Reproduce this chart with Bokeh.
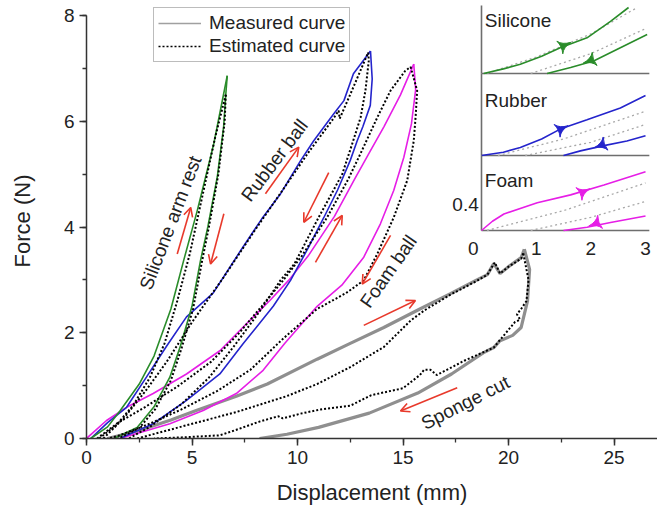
import math
from bokeh.plotting import figure
from bokeh.models import (Range1d, SingleIntervalTicker, Arrow, OpenHead, ColumnDataSource,
                          Legend, LegendItem)
from bokeh.core.properties import value
from bokeh.embed import file_html
from bokeh.resources import INLINE

# ---------------- main data (Displacement mm, Force N) ----------------
sil_meas_load_x = [0.2, 1.0, 1.6, 2.5, 3.2, 4.0, 4.6, 5.25, 6.03, 6.67]
sil_meas_load_y = [0.0, 0.22, 0.53, 1.03, 1.56, 2.45, 3.36, 4.31, 5.57, 6.86]
sil_meas_unload_x = [6.67, 6.6, 6.5, 6.2, 5.75, 5.4, 5.0, 4.45, 3.95, 3.2, 2.4, 1.3]
sil_meas_unload_y = [6.86, 6.5, 5.9, 4.95, 4.0, 3.36, 2.5, 1.75, 1.16, 0.6, 0.21, 0.0]
sil_est_load_x = [0.6, 1.4, 2.2, 3.0, 3.7, 4.3, 4.9, 5.5, 6.1, 6.6]
sil_est_load_y = [0.0, 0.25, 0.62, 1.15, 1.8, 2.6, 3.5, 4.6, 5.7, 6.5]
sil_est_unload_x = [6.6, 6.55, 6.25, 5.8, 5.45, 5.05, 4.5, 4.0, 3.25, 2.5, 1.5]
sil_est_unload_y = [6.5, 6.0, 5.0, 4.0, 3.3, 2.45, 1.7, 1.1, 0.55, 0.2, 0.0]

rub_meas_load_x = [0.2, 1.0, 1.9, 2.84, 3.8, 4.74, 6.0, 7.3, 8.3, 9.2, 10.14, 10.77, 11.72, 12.2, 12.65, 13.46]
rub_meas_load_y = [0.0, 0.3, 0.59, 1.16, 1.75, 2.3, 2.75, 3.55, 4.15, 4.63, 5.25, 5.63, 6.14, 6.39, 6.9, 7.33]
rub_meas_unload_x = [13.46, 13.54, 13.45, 13.1, 12.83, 12.5, 11.9, 11.25, 10.5, 9.67, 8.85, 7.42, 6.32, 4.74, 3.16, 1.58]
rub_meas_unload_y = [7.33, 6.8, 6.3, 5.9, 5.63, 5.26, 4.7, 4.18, 3.6, 2.99, 2.5, 1.79, 1.22, 0.72, 0.28, 0.0]
rub_est_load_x = [0.8, 1.8, 2.8, 3.8, 5.0, 6.5, 8.0, 9.3, 10.5, 11.7, 11.95, 12.0, 12.6, 13.35]
rub_est_load_y = [0.0, 0.4, 0.9, 1.45, 2.2, 3.05, 3.95, 4.7, 5.4, 6.05, 6.2, 6.05, 6.6, 7.3]
rub_est_unload_x = [13.35, 13.38, 13.22, 12.99, 12.59, 12.12, 11.0, 9.85, 9.19, 8.2, 7.0, 5.8, 4.5, 3.0, 2.0]
rub_est_unload_y = [7.3, 7.15, 6.58, 6.07, 5.57, 5.0, 4.18, 3.3, 2.99, 2.4, 1.75, 1.15, 0.65, 0.22, 0.0]

foam_meas_load_x = [0.0, 0.95, 1.9, 3.16, 4.74, 6.32, 7.58, 8.69, 9.6, 10.5, 11.75, 12.7, 13.4, 14.1, 14.88, 15.51]
foam_meas_load_y = [0.0, 0.34, 0.59, 0.85, 1.22, 1.66, 2.17, 2.61, 3.0, 3.45, 4.2, 4.9, 5.4, 5.9, 6.5, 7.08]
foam_meas_unload_x = [15.51, 15.6, 15.4, 15.04, 14.56, 13.93, 13.14, 12.1, 10.93, 9.4, 8.37, 7.1, 5.53, 3.95, 1.58]
foam_meas_unload_y = [7.08, 6.6, 5.95, 5.32, 4.69, 4.06, 3.43, 2.9, 2.5, 1.8, 1.29, 0.85, 0.53, 0.28, 0.0]
foam_est_load_x = [0.5, 1.5, 2.8, 4.3, 5.9, 7.2, 8.3, 9.3, 10.2, 11.4, 12.4, 13.0, 13.78, 14.41, 15.1, 15.36]
foam_est_load_y = [0.0, 0.3, 0.6, 0.98, 1.45, 1.98, 2.5, 2.98, 3.45, 4.18, 4.9, 5.4, 6.07, 6.58, 6.95, 7.03]
foam_est_unload_x = [15.36, 15.67, 15.6, 15.51, 15.2, 14.56, 13.78, 13.14, 12.3, 10.93, 9.35, 7.77, 6.2, 4.5, 3.0, 1.5, 1.0]
foam_est_unload_y = [7.03, 6.58, 6.1, 5.63, 4.88, 4.18, 3.49, 2.99, 2.75, 2.45, 1.9, 1.3, 0.9, 0.55, 0.28, 0.05, 0.0]

spo_meas_load_x = [1.0, 2.5, 4.0, 5.2, 7.1, 8.57, 10.93, 12.5, 14.09, 15.8, 17.25, 18.5, 19.0, 19.3, 19.6, 20.0, 20.6, 20.75]
spo_meas_load_y = [0.0, 0.15, 0.35, 0.53, 0.8, 1.03, 1.5, 1.8, 2.1, 2.45, 2.74, 3.0, 3.1, 3.31, 3.12, 3.25, 3.42, 3.58]
spo_meas_unload_x = [20.75, 21.0, 20.9, 20.6, 20.2, 19.6, 19.3, 18.8, 17.3, 15.7, 13.4, 11.0, 9.5, 8.2]
spo_meas_unload_y = [3.58, 3.2, 2.6, 2.1, 1.95, 1.85, 1.72, 1.62, 1.22, 0.86, 0.48, 0.21, 0.08, 0.0]
spo_est_load_x = [2.4, 4.74, 7.1, 9.48, 10.93, 12.5, 14.09, 15.36, 16.0, 17.25, 18.5, 19.0, 19.35, 19.6, 20.0, 20.6, 20.7]
spo_est_load_y = [0.0, 0.25, 0.5, 0.8, 1.03, 1.35, 1.73, 2.23, 2.42, 2.72, 2.98, 3.1, 3.33, 3.12, 3.25, 3.4, 3.5]
spo_est_unload_x = [20.7, 20.95, 20.85, 20.6, 20.4, 20.55, 20.3, 19.3, 17.9, 16.6, 16.3, 16.0, 15.8, 15.0, 13.5,
                    12.5, 11.1, 10.14, 9.3, 9.1, 8.9, 8.2, 7.0, 6.32, 4.5, 3.2]
spo_est_unload_y = [3.5, 3.0, 2.6, 2.45, 2.35, 2.25, 2.2, 1.72, 1.47, 1.2, 1.3, 1.3, 1.2, 0.95, 0.82,
                    0.62, 0.55, 0.47, 0.38, 0.42, 0.4, 0.32, 0.15, 0.06, 0.02, 0.0]

# red direction arrows (data coords)
arrow_x0 = [4.30, 6.51, 8.48, 11.48, 10.85, 14.41, 13.14, 17.57]
arrow_y0 = [3.49, 4.25, 4.63, 5.03, 3.33, 3.84, 2.14, 0.96]
arrow_x1 = [4.94, 5.88, 10.06, 10.30, 12.12, 13.07, 15.59, 14.88]
arrow_y1 = [4.37, 3.30, 5.51, 4.09, 4.22, 2.92, 2.61, 0.52]

# curve labels
label_text = ["Silicone arm rest", "Rubber ball", "Foam ball", "Sponge cut"]
label_x = [3.98, 8.91, 14.31, 17.96]
label_y = [4.08, 5.26, 3.16, 0.68]
label_angle_deg = [69, 53, 55, 27]

x_ticks_interval = 5
y_ticks_interval = 2

# ---------------- inset data (displacement mm, force N) ----------------
sil_in_load_x = [0.04, 0.4, 0.71, 1.1, 1.44, 1.93, 2.36, 2.69]
sil_in_load_y = [0.0, 0.07, 0.14, 0.26, 0.39, 0.54, 0.79, 1.0]
sil_in_unload_x = [1.2, 1.63, 2.05, 2.54, 3.03]
sil_in_unload_y = [0.0, 0.09, 0.19, 0.39, 0.59]
sil_in_est_load_x = [0.1, 1.0, 2.0, 2.85]
sil_in_est_load_y = [0.0, 0.25, 0.6, 1.0]
sil_in_est_unload_x = [0.9, 2.0, 3.0]
sil_in_est_unload_y = [0.0, 0.3, 0.68]

rub_in_load_x = [0.0, 0.4, 0.71, 1.1, 1.44, 1.93, 2.54, 3.0]
rub_in_load_y = [0.0, 0.05, 0.12, 0.25, 0.4, 0.54, 0.72, 0.91]
rub_in_unload_x = [1.5, 1.81, 2.24, 2.66, 3.0]
rub_in_unload_y = [0.0, 0.07, 0.15, 0.22, 0.3]
rub_in_est_load_x = [0.3, 1.5, 3.0]
rub_in_est_load_y = [0.0, 0.25, 0.67]
rub_in_est_unload_x = [0.8, 2.0, 3.0]
rub_in_est_unload_y = [0.0, 0.2, 0.47]

foam_in_load_x = [0.0, 0.2, 0.41, 1.02, 1.63, 2.24, 3.0]
foam_in_load_y = [0.0, 0.14, 0.25, 0.42, 0.54, 0.69, 0.89]
foam_in_unload_x = [1.5, 1.93, 2.36, 3.0]
foam_in_unload_y = [0.0, 0.05, 0.12, 0.22]
foam_in_est_load_x = [0.1, 1.5, 3.0]
foam_in_est_load_y = [0.0, 0.3, 0.72]
foam_in_est_unload_x = [0.9, 2.0, 3.0]
foam_in_est_unload_y = [0.0, 0.2, 0.44]

# inset direction markers: (x, y) and pointing direction (deg)
sil_in_mark_x = [1.5, 2.0]
sil_in_mark_y = [0.42, 0.2]
rub_in_mark_x = [1.45, 2.2]
rub_in_mark_y = [0.40, 0.16]
foam_in_mark_x = [1.85, 2.1]
foam_in_mark_y = [0.58, 0.11]
mark_dir_deg = [25, 200]

inset_names = ["Silicone", "Rubber", "Foam"]
inset_xticks = [1, 2, 3]
inset_ytick = 0.4

# ---------------- styles / layout ----------------
FONT = "Liberation Sans"
GREEN, BLUE, MAGENTA, GRAY = "#2a8c2a", "#2424cc", "#e61ee6", "#8f8f8f"
RED = "#e8392b"
TXT = "#222222"
W, H = 657, 513
BL, BT, BB, BR = 86, 3, 75, 0
FW, FH = W - BL - BR, H - BT - BB
X_PX = 21.1
Y_TOP_PX = 12
y_scale = (FH - Y_TOP_PX) / 8.0

p = figure(width=W, height=H, output_backend="svg", toolbar_location=None,
           x_range=Range1d(0, FW / X_PX), y_range=Range1d(0, FH / y_scale),
           min_border_left=BL, min_border_right=BR, min_border_top=BT, min_border_bottom=BB)
p.outline_line_color = None
p.grid.visible = False
p.background_fill_color = "white"

p.xaxis.ticker = SingleIntervalTicker(interval=x_ticks_interval, num_minor_ticks=2)
p.yaxis.ticker = SingleIntervalTicker(interval=y_ticks_interval, num_minor_ticks=2)
p.yaxis.bounds = (0, 8)
for ax in (p.xaxis, p.yaxis):
    ax.axis_line_color = "#333333"
    ax.axis_line_width = 1.5
    ax.major_tick_line_color = "#333333"
    ax.major_tick_line_width = 1.5
    ax.minor_tick_line_color = "#333333"
    ax.minor_tick_line_width = 1.3
    ax.major_tick_in = 0
    ax.major_tick_out = 7
    ax.minor_tick_in = 0
    ax.minor_tick_out = 4
    ax.major_label_text_font = FONT
    ax.major_label_text_font_size = "19px"
    ax.major_label_text_color = TXT
    ax.axis_label_text_font = FONT
    ax.axis_label_text_font_size = "22px"
    ax.axis_label_text_font_style = "normal"
    ax.axis_label_text_color = TXT
p.xaxis.axis_label = "Displacement (mm)"
p.yaxis.axis_label = "Force (N)"
p.xaxis.major_label_standoff = 5
p.xaxis.axis_label_standoff = 13
p.yaxis.major_label_standoff = 5
p.yaxis.axis_label_standoff = 26

def meas(x, y, c, w=1.6):
    p.line(x, y, line_color=c, line_width=w)

def est(x, y):
    p.line(x, y, line_color="black", line_width=2, line_dash="2 2")

meas(spo_meas_load_x, spo_meas_load_y, GRAY, 3.2)
meas(spo_meas_unload_x, spo_meas_unload_y, GRAY, 3.2)
meas(foam_meas_load_x, foam_meas_load_y, MAGENTA)
meas(foam_meas_unload_x, foam_meas_unload_y, MAGENTA)
meas(rub_meas_load_x, rub_meas_load_y, BLUE)
meas(rub_meas_unload_x, rub_meas_unload_y, BLUE)
meas(sil_meas_load_x, sil_meas_load_y, GREEN)
meas(sil_meas_unload_x, sil_meas_unload_y, GREEN)
for xs, ys in [(spo_est_load_x, spo_est_load_y), (spo_est_unload_x, spo_est_unload_y),
               (foam_est_load_x, foam_est_load_y), (foam_est_unload_x, foam_est_unload_y),
               (rub_est_load_x, rub_est_load_y), (rub_est_unload_x, rub_est_unload_y),
               (sil_est_load_x, sil_est_load_y), (sil_est_unload_x, sil_est_unload_y)]:
    est(xs, ys)

arr_src = ColumnDataSource(dict(x0=arrow_x0, y0=arrow_y0, x1=arrow_x1, y1=arrow_y1))
p.add_layout(Arrow(source=arr_src, x_start="x0", y_start="y0", x_end="x1", y_end="y1",
                   line_color=RED, line_width=1.6,
                   end=OpenHead(size=9, line_color=RED, line_width=1.6)))

lab_src = ColumnDataSource(dict(x=label_x, y=label_y, t=label_text,
                                a=[math.radians(d) for d in label_angle_deg]))
p.text(x="x", y="y", text="t", angle="a", source=lab_src, text_font=value(FONT),
       text_font_size="19px", text_color=TXT, text_align="center", text_baseline="middle")

# ---------------- inset (own ranges placed in the frame) ----------------
INSET_X0_PX, INSET_X_PX = 395, 54.67
INSET_Y_PX = 66
PANEL_BASE_PX = {"sil": 70, "rub": 152, "foam": 227}
p.extra_x_ranges = {"ix": Range1d(-INSET_X0_PX / INSET_X_PX, (FW - INSET_X0_PX) / INSET_X_PX)}
p.extra_y_ranges = {k: Range1d((b - FH) / INSET_Y_PX, b / INSET_Y_PX) for k, b in PANEL_BASE_PX.items()}
panel_top = {"sil": (PANEL_BASE_PX["sil"] - 2) / INSET_Y_PX,
             "rub": (PANEL_BASE_PX["rub"] - PANEL_BASE_PX["sil"]) / INSET_Y_PX,
             "foam": (PANEL_BASE_PX["foam"] - PANEL_BASE_PX["rub"]) / INSET_Y_PX}

panels = [
    ("sil", GREEN, sil_in_load_x, sil_in_load_y, sil_in_unload_x, sil_in_unload_y,
     sil_in_est_load_x, sil_in_est_load_y, sil_in_est_unload_x, sil_in_est_unload_y,
     sil_in_mark_x, sil_in_mark_y, inset_names[0], 0.80),
    ("rub", BLUE, rub_in_load_x, rub_in_load_y, rub_in_unload_x, rub_in_unload_y,
     rub_in_est_load_x, rub_in_est_load_y, rub_in_est_unload_x, rub_in_est_unload_y,
     rub_in_mark_x, rub_in_mark_y, inset_names[1], 0.83),
    ("foam", MAGENTA, foam_in_load_x, foam_in_load_y, foam_in_unload_x, foam_in_unload_y,
     foam_in_est_load_x, foam_in_est_load_y, foam_in_est_unload_x, foam_in_est_unload_y,
     foam_in_mark_x, foam_in_mark_y, inset_names[2], 0.76),
]
for (k, c, lx, ly, ux, uy, elx, ely, eux, euy, mx, my, name, name_y) in panels:
    kw = dict(x_range_name="ix", y_range_name=k)
    p.segment(x0=[0], y0=[0], x1=[3.07], y1=[0], line_color="#6e6e6e", line_width=1.6, **kw)
    p.segment(x0=[0], y0=[0], x1=[0], y1=[panel_top[k]], line_color="#6e6e6e", line_width=1.6, **kw)
    p.line(elx, ely, line_color="#a8a8a8", line_width=1.3, line_dash="2 3", **kw)
    p.line(eux, euy, line_color="#a8a8a8", line_width=1.3, line_dash="2 3", **kw)
    p.line(lx, ly, line_color=c, line_width=1.6, **kw)
    p.line(ux, uy, line_color=c, line_width=1.6, **kw)
    p.scatter(mx, my, marker="triangle_pin", size=14, fill_color=c, line_color=c,
              angle=[math.radians(d - 90) for d in mark_dir_deg], **kw)
    p.text(x=[0.06], y=[name_y], text=[name], text_font=value(FONT), text_font_size="19px",
           text_color=TXT, text_align="left", text_baseline="middle", **kw)

p.text(x=[-0.15] + inset_xticks, y=[-0.27] * 4, text=["0"] + [str(v) for v in inset_xticks],
       x_range_name="ix", y_range_name="foam", text_font=value(FONT), text_font_size="19px",
       text_color=TXT, text_align="center", text_baseline="middle")
p.text(x=[-0.05], y=[inset_ytick], text=[str(inset_ytick)], x_range_name="ix", y_range_name="foam",
       text_font=value(FONT), text_font_size="19px", text_color=TXT, text_align="right",
       text_baseline="middle")

# ---------------- legend (sample renderers hold no visible data) ----------------
nan = float("nan")
r_meas = p.line([nan], [nan], line_color="#a0a0a0", line_width=1.6)
r_est = p.line([nan], [nan], line_color="black", line_width=1.6, line_dash="2 2")
legend = Legend(items=[LegendItem(label="Measured curve", renderers=[r_meas]),
                       LegendItem(label="Estimated curve", renderers=[r_est])],
                location=(67, 376), orientation="vertical")
legend.border_line_color = "#7a7a7a"
legend.border_line_width = 1
legend.background_fill_color = "white"
legend.background_fill_alpha = 1
legend.label_text_font = FONT
legend.label_text_font_size = "19px"
legend.label_text_color = TXT
legend.glyph_width = 43
legend.glyph_height = 20
legend.label_height = 20
legend.label_standoff = 8
legend.spacing = 1
legend.padding = 4
legend.margin = 0
p.add_layout(legend)

open("out.html", "w").write(file_html(p, INLINE))
